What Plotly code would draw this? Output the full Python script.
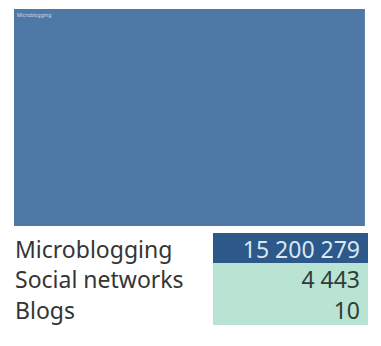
import plotly.graph_objects as go

categories = ["Microblogging", "Social networks", "Blogs"]
mentions = [15200279, 4443, 10]

W, H = 381, 346
fig = go.Figure()

fig.add_trace(go.Treemap(
    labels=categories,
    parents=["", "", ""],
    values=mentions,
    branchvalues="total",
    sort=True,
    textinfo="label",
    textposition="top left",
    textfont=dict(size=5, color="#d0dcea", family="Noto Sans"),
    marker=dict(colors=["#4e79a7"] * 3, line=dict(width=0),
                pad=dict(t=0, l=0, r=0, b=0)),
    tiling=dict(pad=0),
    pathbar=dict(visible=False),
    domain=dict(x=[14 / W, 365 / W], y=[(H - 226) / H, (H - 9) / H]),
    hoverinfo="label+value",
))

value_text = [f"{v:,}".replace(",", "\u00a0") for v in mentions]
value_fill = ["#2c5989", "#b9e3d3", "#b9e3d3"]
value_color = ["#d8e7f3", "#2f3d39", "#2f3d39"]
label_color = "#353535"
font_family = "Noto Sans"
fs = 23

fig.add_trace(go.Table(
    columnwidth=[206, 155],
    header=dict(
        values=[categories[0], value_text[0]],
        align=["left", "right"],
        height=30,
        fill=dict(color=["white", value_fill[0]]),
        line=dict(color=["white", value_fill[0]], width=0),
        font=dict(family=font_family, size=fs, color=[label_color, value_color[0]]),
    ),
    cells=dict(
        values=[categories[1:], value_text[1:]],
        align=["left", "right"],
        height=31,
        fill=dict(color=[["white"] * 2, value_fill[1:]]),
        line=dict(color=[["white"] * 2, value_fill[1:]], width=0),
        font=dict(family=font_family, size=fs, color=[[label_color] * 2, value_color[1:]]),
    ),
    domain=dict(x=[7 / W, 369 / W], y=[(H - 330) / H, (H - 233) / H]),
))

fig.update_layout(
    width=W, height=H,
    margin=dict(l=0, r=0, t=0, b=0),
    paper_bgcolor="white",
    showlegend=False,
)

fig.write_html("out.html", config={"displayModeBar": False},
               post_script="document.body.style.margin='0';")
